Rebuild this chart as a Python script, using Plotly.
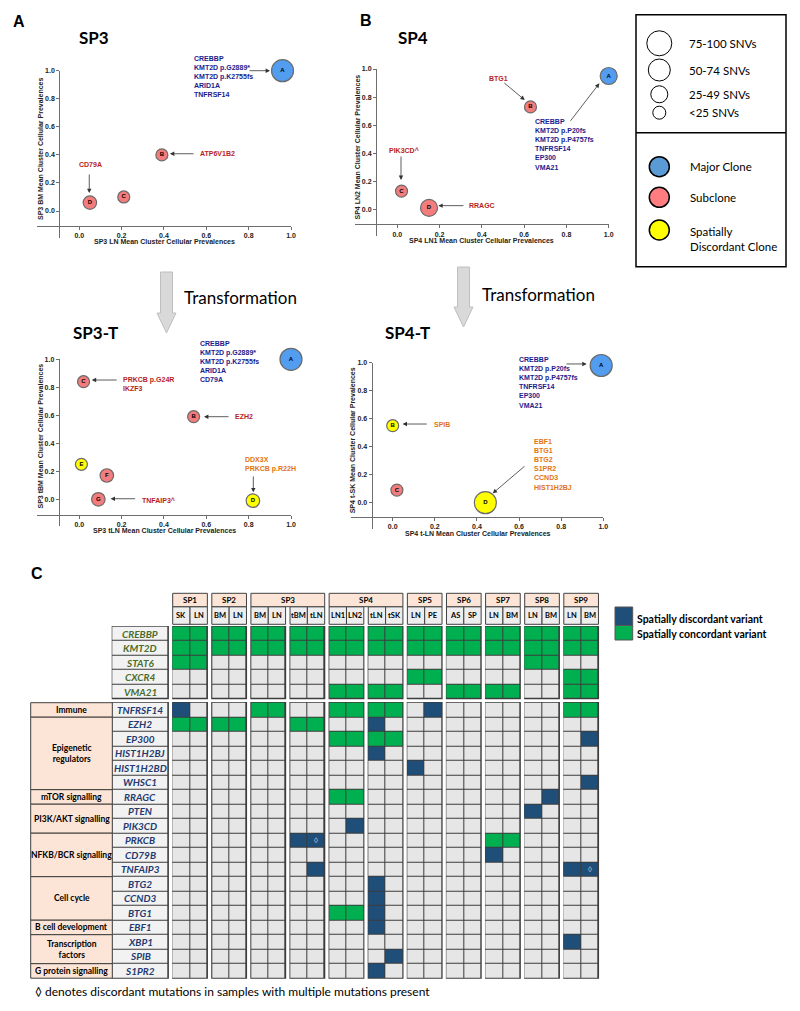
import plotly.graph_objects as go

W, H = 800, 1011

# ---------------- data: clone plots ----------------
sp3_clone = ['A', 'B', 'C', 'D']
sp3_x = [0.96, 0.39, 0.21, 0.05]
sp3_y = [1.00, 0.40, 0.10, 0.06]
sp3_kind = ['major', 'sub', 'sub', 'sub']
sp3_snv = ['75-100', '<25', '<25', '25-49']
sp3_genes = {'A': ['CREBBP', 'KMT2D p.G2889*', 'KMT2D p.K2755fs', 'ARID1A', 'TNFRSF14'],
             'B': ['ATP6V1B2'],
             'D': ['CD79A']}

sp4_clone = ['A', 'B', 'C', 'D']
sp4_x = [1.00, 0.63, 0.02, 0.15]
sp4_y = [0.95, 0.73, 0.13, 0.01]
sp4_kind = ['major', 'sub', 'sub', 'sub']
sp4_snv = ['50-74', '<25', '<25', '50-74']
sp4_genes = {'A': ['CREBBP', 'KMT2D p.P20fs', 'KMT2D p.P4757fs', 'TNFRSF14', 'EP300', 'VMA21'],
             'B': ['BTG1'],
             'C': ['PIK3CD^'],
             'D': ['RRAGC']}

sp3t_clone = ['A', 'B', 'C', 'D', 'E', 'F', 'G']
sp3t_x = [1.00, 0.54, 0.02, 0.82, 0.01, 0.13, 0.09]
sp3t_y = [1.00, 0.59, 0.84, -0.01, 0.25, 0.17, 0.00]
sp3t_kind = ['major', 'sub', 'sub', 'disc', 'disc', 'sub', 'sub']
sp3t_snv = ['75-100', '<25', '<25', '25-49', '<25', '25-49', '25-49']
sp3t_genes = {'A': ['CREBBP', 'KMT2D p.G2889*', 'KMT2D p.K2755fs', 'ARID1A', 'CD79A'],
              'B': ['EZH2'],
              'C': ['PRKCB p.G24R', 'IKZF3'],
              'D': ['DDX3X', 'PRKCB p.R22H'],
              'G': ['TNFAIP3^']}

sp4t_clone = ['A', 'B', 'C', 'D']
sp4t_x = [0.99, 0.00, 0.02, 0.44]
sp4t_y = [0.98, 0.55, 0.09, 0.00]
sp4t_kind = ['major', 'disc', 'sub', 'disc']
sp4t_snv = ['75-100', '<25', '<25', '75-100']
sp4t_genes = {'A': ['CREBBP', 'KMT2D p.P20fs', 'KMT2D p.P4757fs', 'TNFRSF14', 'EP300', 'VMA21'],
              'B': ['SPIB'],
              'D': ['EBF1', 'BTG1', 'BTG2', 'S1PR2', 'CCND3', 'HIST1H2BJ']}

snv_bins = ['75-100', '50-74', '25-49', '<25']
clone_kinds = ['major', 'sub', 'disc']
clone_kind_names = ['Major Clone', 'Subclone', 'Spatially<br>Discordant Clone']

# ---------------- data: mutation table ----------------
sample_patient = ['SP1', 'SP1', 'SP2', 'SP2', 'SP3', 'SP3', 'SP3', 'SP3', 'SP4', 'SP4', 'SP4',
                  'SP4', 'SP5', 'SP5', 'SP6', 'SP6', 'SP7', 'SP7', 'SP8', 'SP8', 'SP9', 'SP9']
sample_site = ['SK', 'LN', 'BM', 'LN', 'BM', 'LN', 'tBM', 'tLN', 'LN1', 'LN2', 'tLN',
               'tSK', 'LN', 'PE', 'AS', 'SP', 'LN', 'BM', 'LN', 'BM', 'LN', 'BM']

# 0 = not mutated, 1 = spatially concordant, 2 = spatially discordant
core_genes = ['CREBBP', 'KMT2D', 'STAT6', 'CXCR4', 'VMA21']
core_status = [
    [1, 1, 1, 1, 1, 1, 1, 1, 1, 1, 1, 1, 1, 1, 1, 1, 1, 1, 1, 1, 1, 1],
    [1, 1, 1, 1, 1, 1, 1, 1, 1, 1, 1, 1, 1, 1, 1, 1, 1, 1, 1, 1, 1, 1],
    [1, 1, 0, 0, 0, 0, 0, 0, 0, 0, 0, 0, 0, 0, 0, 0, 0, 0, 1, 1, 0, 0],
    [0, 0, 0, 0, 0, 0, 0, 0, 0, 0, 0, 0, 1, 1, 0, 0, 0, 0, 0, 0, 1, 1],
    [0, 0, 0, 0, 0, 0, 0, 0, 1, 1, 1, 1, 0, 0, 1, 1, 1, 1, 0, 0, 1, 1],
]
path_genes = ['TNFRSF14', 'EZH2', 'EP300', 'HIST1H2BJ', 'HIST1H2BD', 'WHSC1', 'RRAGC', 'PTEN',
              'PIK3CD', 'PRKCB', 'CD79B', 'TNFAIP3', 'BTG2', 'CCND3', 'BTG1', 'EBF1', 'XBP1',
              'SPIB', 'S1PR2']
path_status = [
    [2, 0, 0, 0, 1, 1, 0, 0, 1, 1, 1, 1, 0, 2, 0, 0, 0, 0, 0, 0, 1, 1],
    [1, 1, 1, 1, 0, 0, 1, 1, 0, 0, 2, 0, 0, 0, 0, 0, 0, 0, 0, 0, 0, 0],
    [0, 0, 0, 0, 0, 0, 0, 0, 1, 1, 1, 1, 0, 0, 0, 0, 0, 0, 0, 0, 0, 2],
    [0, 0, 0, 0, 0, 0, 0, 0, 0, 0, 2, 0, 0, 0, 0, 0, 0, 0, 0, 0, 0, 0],
    [0, 0, 0, 0, 0, 0, 0, 0, 0, 0, 0, 0, 2, 0, 0, 0, 0, 0, 0, 0, 0, 0],
    [0, 0, 0, 0, 0, 0, 0, 0, 0, 0, 0, 0, 0, 0, 0, 0, 0, 0, 0, 0, 0, 2],
    [0, 0, 0, 0, 0, 0, 0, 0, 1, 1, 0, 0, 0, 0, 0, 0, 0, 0, 0, 2, 0, 0],
    [0, 0, 0, 0, 0, 0, 0, 0, 0, 0, 0, 0, 0, 0, 0, 0, 0, 0, 2, 0, 0, 0],
    [0, 0, 0, 0, 0, 0, 0, 0, 0, 2, 0, 0, 0, 0, 0, 0, 0, 0, 0, 0, 0, 0],
    [0, 0, 0, 0, 0, 0, 2, 2, 0, 0, 0, 0, 0, 0, 0, 0, 1, 1, 0, 0, 0, 0],
    [0, 0, 0, 0, 0, 0, 0, 0, 0, 0, 0, 0, 0, 0, 0, 0, 2, 0, 0, 0, 0, 0],
    [0, 0, 0, 0, 0, 0, 0, 2, 0, 0, 0, 0, 0, 0, 0, 0, 0, 0, 0, 0, 2, 2],
    [0, 0, 0, 0, 0, 0, 0, 0, 0, 0, 2, 0, 0, 0, 0, 0, 0, 0, 0, 0, 0, 0],
    [0, 0, 0, 0, 0, 0, 0, 0, 0, 0, 2, 0, 0, 0, 0, 0, 0, 0, 0, 0, 0, 0],
    [0, 0, 0, 0, 0, 0, 0, 0, 1, 1, 2, 0, 0, 0, 0, 0, 0, 0, 0, 0, 0, 0],
    [0, 0, 0, 0, 0, 0, 0, 0, 0, 0, 2, 0, 0, 0, 0, 0, 0, 0, 0, 0, 0, 0],
    [0, 0, 0, 0, 0, 0, 0, 0, 0, 0, 0, 0, 0, 0, 0, 0, 0, 0, 0, 0, 2, 0],
    [0, 0, 0, 0, 0, 0, 0, 0, 0, 0, 0, 2, 0, 0, 0, 0, 0, 0, 0, 0, 0, 0],
    [0, 0, 0, 0, 0, 0, 0, 0, 0, 0, 2, 0, 0, 0, 0, 0, 0, 0, 0, 0, 0, 0],
]
pathways = ['Immune', 'Epigenetic<br>regulators', 'mTOR signalling', 'PI3K/AKT signalling',
            'NFKB/BCR signalling', 'Cell cycle', 'B cell development',
            'Transcription<br>factors', 'G protein signalling']
pathway_rows = [1, 5, 1, 2, 3, 3, 1, 2, 1]
multi_mut = [('PRKCB', 7), ('TNFAIP3', 21)]   # discordant, multiple mutations

# ---------------- styles ----------------
kind_color = {'major': '#529DF0', 'sub': '#F47C7C', 'disc': '#FFFF00'}
kind_text = {'major': '#1C1C8C', 'sub': '#B81E1E', 'disc': '#E27414'}
legend_kind_color = {'major': '#5B9BD5', 'sub': '#FF7C80', 'disc': '#FFFF00'}
snv_size = {'75-100': 22, '50-74': 17, '25-49': 13.5, '<25': 12}
legend_snv_size = {'75-100': 25, '50-74': 22, '25-49': 17, '<25': 13}
ARIAL = 'Liberation Sans'
CAL = 'Lato'
BORDER = '#404040'

fig = go.Figure()
annotations = []
shapes = []


def ann(x, y, text, size, color='black', family=CAL, xanchor='center', xref='x5', yref='y5',
        **kw):
    d = dict(x=x, y=y, text=text, showarrow=False, xref=xref, yref=yref, xanchor=xanchor,
             yanchor='middle', font=dict(family=family, size=size, color=color))
    d.update(kw)
    annotations.append(d)


# ---------------- scatter panels ----------------
# pixel geometry: x0/x1 = page x of 0.0 / 1.0; y0/y1 = page y of 0.0 / 1.0
panels = [
    dict(title='SP3', title_xy=(77, 37), x=sp3_x, y=sp3_y, clone=sp3_clone, kind=sp3_kind,
         snv=sp3_snv, genes=sp3_genes,
         x0=79.3, x1=291.0, y0=211.0, y1=70.7, xline=225.7, yline=59.2,
         xtitle='SP3 LN Mean Cluster Cellular Prevalences', xt=(164, 241.5),
         ytitle='SP3 BM Mean Cluster Cellular Prevalences', yt=(40, 149),
         lab={'A': dict(t=(0.531, 0.960, 'left'), a=((0.797, 1.0), (0.901, 1.0))),
              'B': dict(t=(0.561, 0.408, 'left'), a=((0.547, 0.408), (0.428, 0.408))),
              'D': dict(t=(0.052, 0.328, 'center'), a=((0.047, 0.271), (0.047, 0.128)))}),
    dict(title='SP4', title_xy=(396, 37), x=sp4_x, y=sp4_y, clone=sp4_clone, kind=sp4_kind,
         snv=sp4_snv, genes=sp4_genes,
         x0=397.3, x1=608.7, y0=209.3, y1=69.0, xline=224.3, yline=376.0,
         xtitle='SP4 LN1 Mean Cluster Cellular Prevalences', xt=(481, 240),
         ytitle='SP4 LN2 Mean Cluster Cellular Prevalences', yt=(357, 147.5),
         lab={'A': dict(t=(0.643, 0.462, 'left'), a=((0.814, 0.620), (0.956, 0.898))),
              'B': dict(t=(0.481, 0.934, 'center'), a=((0.499, 0.909), (0.603, 0.779))),
              'C': dict(t=(0.032, 0.418, 'center'), a=((0.0175, 0.387), (0.0175, 0.209))),
              'D': dict(t=(0.328, 0.026, 'left'), a=((0.32, 0.026), (0.194, 0.026)))}),
    dict(title='SP3-T', title_xy=(71, 332), x=sp3t_x, y=sp3t_y, clone=sp3t_clone,
         kind=sp3t_kind, snv=sp3t_snv, genes=sp3t_genes,
         x0=79.3, x1=291.0, y0=499.3, y1=359.3, xline=515.0, yline=58.7,
         xtitle='SP3 tLN Mean Cluster Cellular Prevalences', xt=(164, 530.5),
         ytitle='SP3 tBM Mean Cluster Cellular Prevalences', yt=(40, 436.5),
         lab={'A': dict(t=(0.562, 0.981, 'left'), a=((0.841, 1.004), (0.940, 1.004))),
              'B': dict(t=(0.725, 0.59, 'left'), a=((0.712, 0.59), (0.589, 0.59))),
              'C': dict(t=(0.197, 0.824, 'left'), a=((0.184, 0.852), (0.059, 0.852))),
              'D': dict(t=(0.772, 0.247, 'left'), a=((0.822, 0.174), (0.822, 0.05))),
              'G': dict(t=(0.287, -0.01, 'left'), a=((0.271, 0.004), (0.148, 0.004)))}),
    dict(title='SP4-T', title_xy=(383, 332), x=sp4t_x, y=sp4t_y, clone=sp4t_clone,
         kind=sp4t_kind, snv=sp4t_snv, genes=sp4t_genes,
         x0=392.7, x1=603.3, y0=502.7, y1=362.7, xline=517.0, yline=371.6,
         xtitle='SP4 t-LN Mean Cluster Cellular Prevalences', xt=(478, 533.5),
         ytitle='SP4 t-SK Mean Cluster Cellular Prevalences', yt=(352.3, 440),
         lab={'A': dict(t=(0.589, 0.861, 'left'), a=((0.818, 0.991), (0.921, 0.991))),
              'B': dict(t=(0.185, 0.562, 'left'), a=((0.169, 0.562), (0.047, 0.562))),
              'D': dict(t=(0.663, 0.276, 'left'), a=((0.633, 0.269), (0.475, 0.067)))}),
]

XMIN, YMIN = -0.2, -0.19
axis_style = dict(showline=True, linecolor='#6E6E6E', linewidth=1, ticks='outside', ticklen=3,
                  tickcolor='#6E6E6E', showgrid=False, zeroline=False, fixedrange=True,
                  automargin=False,
                  tickvals=[0, 0.2, 0.4, 0.6, 0.8, 1.0], tickformat='.1f',
                  tickfont=dict(family=ARIAL, size=7, color='#222', weight='bold'))
layout_axes = {}
for i, p in enumerate(panels):
    sfx = '' if i == 0 else str(i + 1)
    xr, yr = 'x' + sfx, 'y' + sfx
    left_px = p['x0'] + XMIN * (p['x1'] - p['x0'])
    bottom_px = p['y0'] + (-YMIN) * (p['y0'] - p['y1'])
    layout_axes['xaxis' + sfx] = dict(axis_style, domain=[left_px / W, p['x1'] / W],
                                      range=[XMIN, 1.0], anchor='free',
                                      position=1 - p['xline'] / H)
    layout_axes['yaxis' + sfx] = dict(axis_style, domain=[1 - bottom_px / H, 1 - p['y1'] / H],
                                      range=[YMIN, 1.0], anchor='free',
                                      position=p['yline'] / W)
    fig.add_trace(go.Scatter(
        x=p['x'], y=p['y'], xaxis=xr, yaxis=yr, mode='markers+text', text=p['clone'],
        textposition='middle center', cliponaxis=False, hoverinfo='skip',
        textfont=dict(family=ARIAL, size=6, color='black', weight='bold'),
        marker=dict(size=[snv_size[s] for s in p['snv']],
                    color=[kind_color[k] for k in p['kind']],
                    line=dict(color='#6A6A6A', width=1.2), opacity=1)))
    for c, pos in p['lab'].items():
        k = p['kind'][p['clone'].index(c)]
        tx, ty, anchor = pos['t']
        ann(tx, ty, '<br>'.join(p['genes'][c]), 7, kind_text[k], ARIAL, anchor, xr, yr,
            align='left' if anchor == 'left' else 'center')
        annotations[-1]['font']['weight'] = 'bold'
        (ax_, ay_), (hx, hy) = pos['a']
        annotations.append(dict(x=hx, y=hy, ax=ax_, ay=ay_, xref=xr, yref=yr, axref=xr,
                                ayref=yr, text='', showarrow=True, arrowhead=2,
                                arrowsize=1.1, arrowwidth=0.8, arrowcolor='#333',
                                standoff=0, startstandoff=0))
    ann(p['xt'][0], p['xt'][1], p['xtitle'], 7, '#222', ARIAL)
    annotations[-1]['font']['weight'] = 'bold'
    ann(p['yt'][0], p['yt'][1], p['ytitle'], 7, '#222', ARIAL, textangle=-90)
    annotations[-1]['font']['weight'] = 'bold'
    ann(p['title_xy'][0], p['title_xy'][1], '<b>%s</b>' % p['title'], 17, 'black', CAL, 'left')

# panel letters
ann(18.5, 21, '<b>A</b>', 16, 'black', ARIAL)
ann(366, 20, '<b>B</b>', 16, 'black', ARIAL)
ann(37, 573, '<b>C</b>', 16, 'black', ARIAL)

# transformation arrows
for cx, top, head, tip, tx, ty in [(166.5, 272, 313, 333, 181.7, 297),
                                   (463.5, 267, 307, 327, 479.6, 294.5)]:
    shapes.append(dict(type='path', xref='x5', yref='y5', fillcolor='#D9D9D9',
                       line=dict(color='#BFBFBF', width=1),
                       path='M %f,%f L %f,%f L %f,%f L %f,%f L %f,%f L %f,%f L %f,%f Z' % (
                           cx - 6, top, cx + 6, top, cx + 6, head, cx + 9.5, head, cx, tip,
                           cx - 9.5, head, cx - 6, head)))
    ann(tx, ty, 'Transformation', 17, 'black', CAL, 'left')

# ---------------- clone legend box ----------------
box_x0, box_x1, box_y0, box_mid, box_y1 = 636, 786, 14.7, 132.7, 266.7
shapes.append(dict(type='rect', xref='x5', yref='y5', x0=box_x0, x1=box_x1, y0=box_y0,
                   y1=box_y1, line=dict(color='black', width=1.5)))
shapes.append(dict(type='line', xref='x5', yref='y5', x0=box_x0, x1=box_x1, y0=box_mid,
                   y1=box_mid, line=dict(color='black', width=1.5)))
leg_cx = 659.3
for b, yy in zip(snv_bins, [43.3, 70, 94.3, 112.7]):
    r = legend_snv_size[b] / 2
    shapes.append(dict(type='circle', xref='x5', yref='y5', x0=leg_cx - r, x1=leg_cx + r,
                       y0=yy - r, y1=yy + r, line=dict(color='black', width=1),
                       fillcolor='white'))
    ann(687.3, yy, '%s SNVs' % b, 11.5, 'black', CAL, 'left')
for k, name, yy in zip(clone_kinds, clone_kind_names, [166.7, 197.3, 230]):
    shapes.append(dict(type='circle', xref='x5', yref='y5', x0=leg_cx - 10, x1=leg_cx + 10,
                       y0=yy - 10, y1=yy + 10, line=dict(color='black', width=1.5),
                       fillcolor=legend_kind_color[k]))
    if '<br>' in name:
        ann(687.5, yy - 7, name, 11.5, 'black', CAL, 'left', align='left', yanchor='top')
    else:
        ann(688.3, yy, name, 11.5, 'black', CAL, 'left')

# ---------------- mutation table (page-pixel axes x5/y5) ----------------
cell_w, gap_w = 17.33, 4.45
lab_x0, lab_x1, grid_x0, cat_x0 = 112.3, 168.3, 172.7, 30.7
top_y0, row_h_top, row_h, block_gap = 626.7, 14.4, 14.5, 4.0
hdr_y0, hdr_y1, hdr_y2 = 593.3, 606.7, 624.3
n_s = len(sample_site)

x_edges = [lab_x0, lab_x1, grid_x0]
col_kind = ['label', 'gap']
xx = grid_x0
for s in range(n_s):
    xx += cell_w
    x_edges.append(xx)
    col_kind.append(s)
    if s % 2 == 1 and s < n_s - 1:
        xx += gap_w
        x_edges.append(xx)
        col_kind.append('gap')
col_of = {k: c for c, k in enumerate(col_kind) if isinstance(k, int)}

y_edges = [top_y0]
row_kind = []
for i in range(len(core_genes)):
    y_edges.append(y_edges[-1] + row_h_top)
    row_kind.append(('core', i))
y_edges.append(y_edges[-1] + block_gap)
row_kind.append('gap')
for i in range(len(path_genes)):
    y_edges.append(y_edges[-1] + row_h)
    row_kind.append(('path', i))

z = []
for rk in row_kind:
    row = []
    for ck in col_kind:
        if rk == 'gap' or ck == 'gap':
            row.append(None)
        elif ck == 'label':
            row.append(3)
        else:
            st = core_status if rk[0] == 'core' else path_status
            row.append(st[rk[1]][ck])
    z.append(row)

fig.add_trace(go.Heatmap(
    x=x_edges, y=y_edges, z=z, xaxis='x5', yaxis='y5', zmin=0, zmax=3, showscale=False,
    xgap=1, ygap=1, hoverinfo='skip',
    colorscale=[[0, '#E7E6E6'], [0.16, '#E7E6E6'], [0.17, '#00B050'], [0.5, '#00B050'],
                [0.5, '#1F4E79'], [0.83, '#1F4E79'], [0.84, '#F2F2F2'], [1, '#F2F2F2']]))

# dark backing blocks (cell borders)
x_blocks = [(lab_x0, lab_x1)] + [(x_edges[col_of[2 * b]], x_edges[col_of[2 * b + 1] + 1])
                                 for b in range(n_s // 2)]
y_blocks = [(y_edges[0], y_edges[len(core_genes)]), (y_edges[len(core_genes) + 1], y_edges[-1])]
for (xa, xb) in x_blocks:
    for (ya, yb) in y_blocks:
        shapes.append(dict(type='rect', xref='x5', yref='y5', layer='below', x0=xa - 0.6,
                           x1=xb + 0.6, y0=ya - 0.6, y1=yb + 0.6, fillcolor='#3C3C3C',
                           line=dict(width=0)))

# header rows
for s in range(n_s):
    xa, xb = x_edges[col_of[s]], x_edges[col_of[s] + 1]
    shapes.append(dict(type='rect', xref='x5', yref='y5', x0=xa, x1=xb, y0=hdr_y1, y1=hdr_y2,
                       fillcolor='#EDEDED', line=dict(color=BORDER, width=1)))
    ann((xa + xb) / 2, (hdr_y1 + hdr_y2) / 2, '<b>%s</b>' % sample_site[s], 7.5, 'black', CAL)
patients = []
for p in sample_patient:
    if p not in patients:
        patients.append(p)
for p in patients:
    idx = [s for s in range(n_s) if sample_patient[s] == p]
    xa, xb = x_edges[col_of[idx[0]]], x_edges[col_of[idx[-1]] + 1]
    shapes.append(dict(type='rect', xref='x5', yref='y5', x0=xa, x1=xb, y0=hdr_y0, y1=hdr_y1,
                       fillcolor='#FCE4D6', line=dict(color=BORDER, width=1)))
    ann((xa + xb) / 2, (hdr_y0 + hdr_y1) / 2, '<b>%s</b>' % p, 8, 'black', CAL)

# gene labels
lab_cx = (lab_x0 + lab_x1) / 2
for r, rk in enumerate(row_kind):
    if rk == 'gap':
        continue
    yc = (y_edges[r] + y_edges[r + 1]) / 2
    if rk[0] == 'core':
        ann(lab_cx, yc, '<b><i>%s</i></b>' % core_genes[rk[1]], 10, '#4A6B2A', CAL)
    else:
        ann(lab_cx, yc, '<b><i>%s</i></b>' % path_genes[rk[1]], 10, '#1F3A70', CAL)

# pathway category boxes
r0 = len(core_genes) + 1
for name, n in zip(pathways, pathway_rows):
    ya, yb = y_edges[r0], y_edges[r0 + n]
    shapes.append(dict(type='rect', xref='x5', yref='y5', x0=cat_x0, x1=lab_x0, y0=ya, y1=yb,
                       fillcolor='#FCE4D6', line=dict(color=BORDER, width=1)))
    ann((cat_x0 + lab_x0) / 2, (ya + yb) / 2, '<b>%s</b>' % name, 8.5, 'black', CAL)
    r0 += n

# multiple-mutation markers
for g, s in multi_mut:
    r = len(core_genes) + 1 + path_genes.index(g)
    ann((x_edges[col_of[s]] + x_edges[col_of[s] + 1]) / 2, (y_edges[r] + y_edges[r + 1]) / 2,
        '\u25ca', 8, '#C9D6EA', ARIAL)

# table legend
for (ya, yb), col, txt, ty in [((607, 625.5), '#1F4E79', 'Spatially discordant variant', 619.3),
                               ((625.5, 640), '#00B050', 'Spatially concordant variant', 634.3)]:
    shapes.append(dict(type='rect', xref='x5', yref='y5', x0=615, x1=632.7, y0=ya, y1=yb,
                       fillcolor=col, line=dict(color='#555', width=1)))
    ann(635, ty, '<b>%s</b>' % txt, 10.5, 'black', CAL, 'left')

ann(33, 991.7, '\u25ca denotes discordant mutations in samples with multiple mutations present',
    12, 'black', CAL, 'left')

fig.update_layout(
    width=W, height=H, margin=dict(l=0, r=0, t=0, b=0, pad=0, autoexpand=False),
    paper_bgcolor='white', plot_bgcolor='rgba(0,0,0,0)', showlegend=False,
    font=dict(family=ARIAL),
    xaxis5=dict(domain=[0, 1], range=[0, W], visible=False, fixedrange=True, anchor='y5',
                automargin=False),
    yaxis5=dict(domain=[0, 1], range=[H, 0], visible=False, fixedrange=True, anchor='x5',
                automargin=False),
    annotations=annotations, shapes=shapes, **layout_axes)

# the page body has a default 8px margin; remove it so the figure sits at the page origin
fig.write_html('out.html', config={'displayModeBar': False},
               post_script="document.body.style.margin='0px';")
